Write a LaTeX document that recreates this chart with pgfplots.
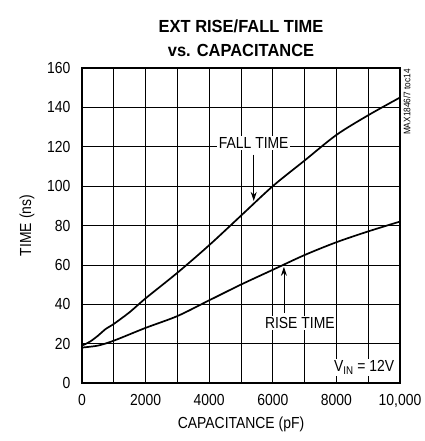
\documentclass[border=0pt]{standalone}
\usepackage{fontspec}
\setmainfont[FakeStretch=0.87]{Liberation Sans}
\newfontfamily\titlefont[FakeStretch=0.94]{Liberation Sans}
\usepackage{pgfplots}
\pgfplotsset{compat=1.18}
\usetikzlibrary{arrows.meta}
\begin{document}
\begin{tikzpicture}[font=\fontsize{16pt}{18pt}\selectfont]
\begin{axis}[
    scale only axis,
    width=318pt, height=315pt,
    xmin=0, xmax=10000,
    ymin=0, ymax=160,
    xtick={0,1000,...,10000},
    xticklabels={0,,2000,,4000,,6000,,8000,,{10,000}},
    ytick={0,20,...,160},
    scaled x ticks=false,
    /pgf/number format/assume math mode=true,
    tick label style={font=\fontsize{16pt}{18pt}\selectfont},
    label style={font=\fontsize{16pt}{18pt}\selectfont},
    tick style={draw=none},
    grid=major,
    grid style={black, line width=0.7pt},
    axis line style={line width=2.2pt},
    xticklabel style={yshift=-8pt},
    yticklabel style={xshift=-8pt},
    xlabel={CAPACITANCE (pF)},
    ylabel={TIME (ns)},
    xlabel style={yshift=-2pt},
    ylabel style={yshift=6pt},
    title style={font=\titlefont\fontsize{17.5pt}{24pt}\selectfont\bfseries, align=center, yshift=2pt},
    title={EXT RISE/FALL TIME\\vs. CAPACITANCE},
    clip=false,
]
\addplot[black, line width=1.7pt, smooth] coordinates {
    (0,19) (250,21) (500,24) (750,27.5) (1000,30) (1500,36) (2000,43) (3000,56) (4000,70)
    (5000,85) (6000,100) (7000,113) (8000,126) (9000,136) (10000,145)
};
\addplot[black, line width=1.7pt, smooth] coordinates {
    (0,18) (500,19) (1000,21.5) (2000,28) (3000,34) (4000,42) (5000,50)
    (6000,57.5) (7000,65) (8000,71.5) (9000,77) (10000,82)
};
\coordinate (fl) at (axis cs:5400,122);
\coordinate (fa) at (axis cs:5400,116);
\coordinate (fb) at (axis cs:5400,92.5);
\coordinate (rl) at (axis cs:6850,30.5);
\coordinate (ra) at (axis cs:6350,35.5);
\coordinate (rb) at (axis cs:6350,59);
\coordinate (vl) at (axis cs:9870,8);
\coordinate (tr) at (rel axis cs:1,1);
\end{axis}
\node[fill=white, inner sep=1.5pt] at (fl) {FALL TIME};
\draw[line width=0.8pt, -{Stealth[length=9pt, width=6pt]}] (fa) -- (fb);
\node[fill=white, inner sep=1.5pt] at (rl) {RISE TIME};
\draw[line width=0.8pt, -{Stealth[length=9pt, width=6pt]}] (ra) -- (rb);
\node[fill=white, inner sep=1.5pt, anchor=east] at (vl) {V\textsubscript{IN} = 12V};
\path (tr) ++(7pt,-1pt) node[rotate=90, font=\fontsize{9.5pt}{10pt}\selectfont, anchor=east, inner sep=0pt] {MAX1846/7 toc14};
\path[use as bounding box] (-82pt,-58pt) rectangle (333pt,383pt);
\end{tikzpicture}
\end{document}
